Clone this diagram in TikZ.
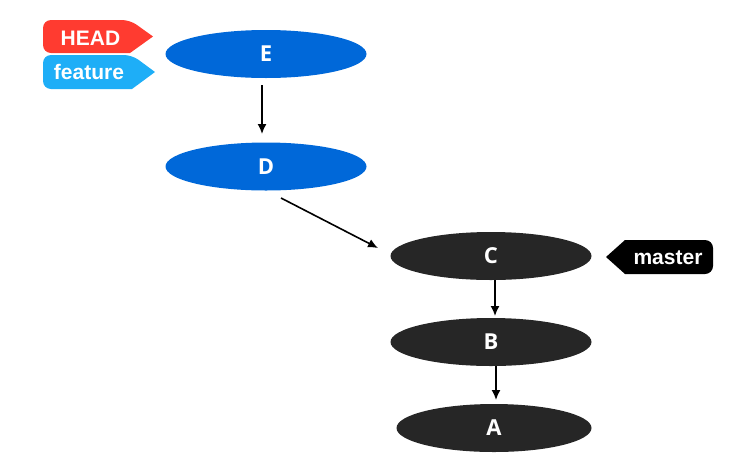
\documentclass[tikz,border=0pt]{standalone}
\usepackage{fontspec}
\setmainfont{Liberation Sans}
\newfontfamily\commitfont{Open Sans}
\usetikzlibrary{shapes.geometric,arrows.meta}
\definecolor{cblue}{HTML}{0068D9}
\definecolor{cdark}{HTML}{262626}
\definecolor{cred}{HTML}{FF3B30}
\definecolor{clight}{HTML}{1EAEF7}
\tikzset{
  commit/.style={ellipse, minimum width=201pt, minimum height=48pt, inner sep=0pt, text=white, font=\commitfont\bfseries\fontsize{22}{22}\selectfont},
  bluecommit/.style={commit, fill=cblue},
  darkcommit/.style={commit, fill=cdark},
  tagtext/.style={text=white, inner sep=0pt, font=\bfseries\fontsize{21}{21}\selectfont},
  link/.style={-{Latex[length=10pt,width=9pt]}, line width=1.6pt, black},
}
\begin{document}
\begin{tikzpicture}[x=1pt,y=-1pt]
\useasboundingbox (0,0) rectangle (743,472);
% commits
\node[bluecommit] (E) at (266,54) {E};
\node[bluecommit] (D) at (266,166.5) {D};
\node[darkcommit] (C) at (491,256) {C};
\node[darkcommit] (B) at (491,342) {B};
\node[darkcommit, minimum width=195pt] (A) at (494,428) {A};
% connectors
\coordinate (e1) at (262,85);
\coordinate (e2) at (262,134);
\draw[link] (e1) -- (e2);
\coordinate (d1) at (281,198);
\coordinate (d2) at (378,248);
\draw[link] (d1) -- (d2);
\coordinate (c1) at (495,280);
\coordinate (c2) at (495,316);
\draw[link] (c1) -- (c2);
\coordinate (b1) at (496,366);
\coordinate (b2) at (496,400);
\draw[link] (b1) -- (b2);
% tags
\fill[cred, rounded corners=8pt] (43,36.5) -- (43,20) -- (130,20) [sharp corners] -- (153,36.5) -- (130,53) [rounded corners=8pt] -- (43,53) -- cycle;
\node[tagtext] (head) at (90.5,38) {HEAD};
\fill[clight, rounded corners=8pt] (43,72) -- (43,55) -- (132,55) [sharp corners] -- (155,72) -- (132,89) [rounded corners=8pt] -- (43,89) -- cycle;
\node[tagtext] (feature) at (89,72) {feature};
\fill[black, rounded corners=8pt] (713,257) -- (713,240) [sharp corners] -- (625,240) -- (606,257) -- (625,274) [rounded corners=8pt] -- (713,274) -- cycle;
\node[tagtext] (master) at (668,258) {master};
\end{tikzpicture}
\end{document}
